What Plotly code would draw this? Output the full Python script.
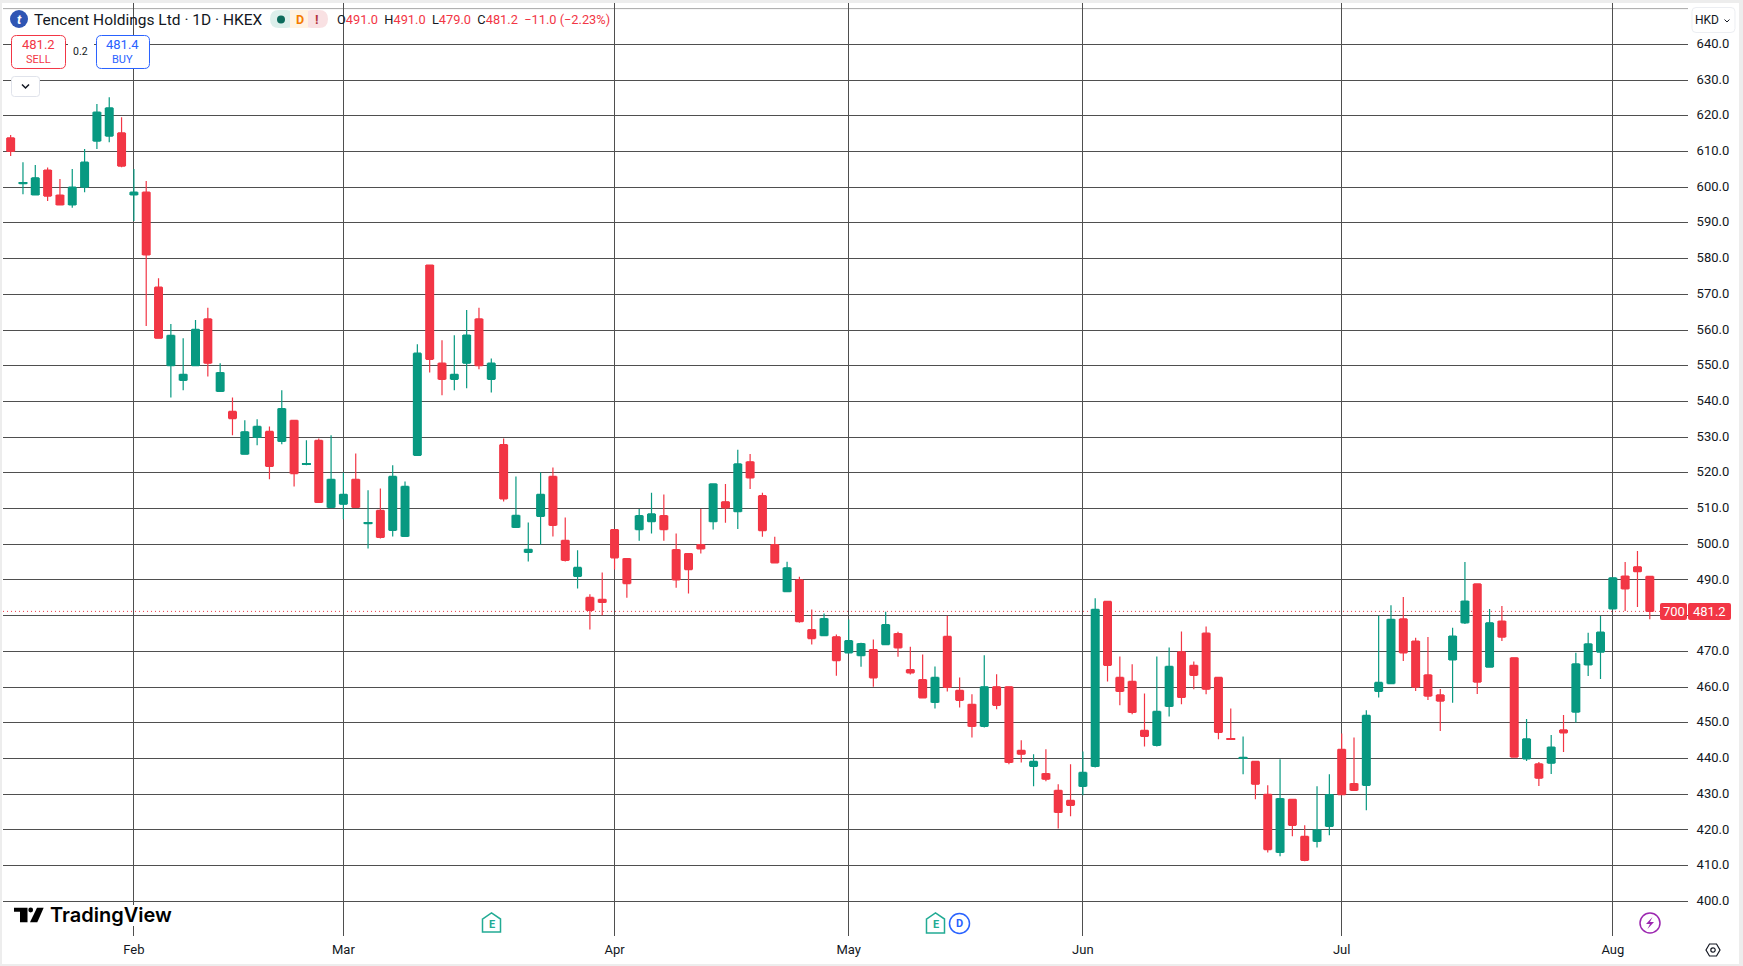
import plotly.graph_objects as go

W, H = 1743, 966

opens = [613.8, 601.0, 597.8, 604.8, 597.8, 595.0, 600.0, 612.9, 614.3, 615.2,
         597.8, 598.6, 572.0, 550.0, 545.9, 550.0, 563.1, 542.8, 537.2, 525.2,
         529.9, 531.6, 528.8, 534.7, 522.4, 529.1, 510.3, 511.2, 518.2, 505.8,
         509.5, 503.9, 502.2, 524.9, 578.2, 550.7, 546.2, 550.7, 563.1, 546.2,
         527.9, 504.7, 497.7, 507.8, 519.0, 501.1, 491.0, 485.1, 484.6, 504.1,
         496.0, 504.1, 506.3, 508.0, 498.5, 497.4, 499.9, 506.3, 511.9, 509.1,
         523.1, 513.6, 499.9, 486.7, 490.0, 476.1, 474.4, 474.1, 469.6, 468.8,
         470.5, 471.9, 475.0, 464.9, 462.1, 455.7, 474.2, 459.1, 455.2, 449.0,
         460.1, 460.1, 442.3, 437.8, 435.8, 431.1, 428.3, 432.2, 437.8, 484.0,
         462.7, 461.6, 447.9, 443.7, 454.6, 469.9, 466.1, 475.1, 462.7, 445.6,
         440.0, 439.2, 430.0, 413.7, 428.6, 418.2, 416.8, 421.0, 442.6, 433.0,
         432.5, 458.8, 461.0, 479.1, 472.9, 463.4, 457.8, 467.6, 478.0, 488.9,
         465.6, 478.5, 468.2, 439.9, 438.5, 438.7, 448.0, 453.0, 466.2, 469.8,
         481.9, 491.1, 493.7, 491.0]
highs = [614.6, 607.0, 606.2, 605.5, 602.3, 605.1, 610.7, 623.3, 625.2, 619.6,
         605.1, 601.7, 574.5, 561.7, 557.7, 562.8, 566.2, 550.7, 541.1, 534.7,
         535.0, 533.0, 543.1, 534.7, 529.1, 529.6, 530.5, 520.1, 525.4, 515.1,
         515.6, 522.1, 517.6, 556.0, 578.2, 557.1, 558.5, 565.6, 566.2, 552.0,
         529.6, 519.0, 506.1, 520.1, 521.5, 507.5, 498.3, 486.0, 492.1, 504.1,
         496.0, 509.9, 514.4, 513.9, 503.0, 497.4, 509.9, 516.9, 516.9, 526.5,
         525.3, 514.4, 502.1, 495.1, 490.9, 481.7, 480.6, 474.7, 478.9, 472.4,
         473.3, 481.1, 475.5, 471.3, 469.1, 465.8, 480.0, 462.7, 458.0, 468.9,
         463.6, 460.1, 445.1, 441.2, 442.6, 432.8, 438.4, 442.0, 484.9, 484.0,
         468.6, 466.4, 458.2, 468.6, 471.1, 475.6, 467.2, 477.0, 462.7, 454.0,
         446.2, 439.2, 432.5, 439.8, 428.6, 421.3, 432.2, 435.6, 447.0, 445.9,
         453.5, 480.0, 482.9, 485.2, 473.8, 474.0, 459.5, 476.6, 495.0, 488.9,
         481.9, 482.7, 468.2, 451.1, 439.0, 446.6, 452.2, 469.6, 475.2, 479.9,
         490.6, 495.0, 498.1, 491.0]
lows = [608.7, 598.0, 597.8, 596.1, 595.0, 594.2, 598.6, 610.7, 612.6, 605.6,
        590.5, 561.1, 557.7, 541.1, 543.1, 550.0, 547.0, 542.8, 530.5, 525.2,
        527.7, 518.2, 528.0, 516.2, 522.1, 511.7, 510.3, 507.0, 510.3, 498.8,
        501.6, 502.2, 502.2, 524.9, 548.1, 541.7, 543.1, 543.7, 549.0, 542.5,
        512.0, 504.7, 495.2, 499.9, 502.2, 495.2, 487.6, 476.1, 480.1, 492.9,
        485.0, 501.0, 503.0, 501.0, 487.8, 486.2, 497.4, 504.1, 506.0, 504.3,
        515.5, 502.1, 494.8, 486.7, 478.0, 471.9, 474.4, 463.2, 469.6, 465.7,
        460.1, 471.9, 468.5, 463.5, 457.0, 454.0, 458.8, 454.3, 445.9, 448.7,
        453.8, 438.4, 438.9, 432.2, 433.6, 420.4, 423.8, 429.7, 437.5, 461.6,
        454.9, 452.4, 443.4, 443.4, 451.8, 455.2, 459.4, 458.0, 445.4, 445.4,
        435.6, 428.6, 413.7, 412.6, 418.2, 411.2, 415.1, 418.5, 429.9, 431.1,
        425.5, 457.1, 460.8, 467.3, 458.9, 456.4, 447.7, 455.6, 477.7, 458.1,
        465.6, 472.9, 440.4, 439.3, 432.3, 435.7, 441.8, 450.1, 463.1, 462.3,
        481.9, 481.3, 482.4, 479.0]
closes = [610.0, 601.2, 602.6, 597.5, 595.0, 600.0, 607.0, 621.0, 622.2, 605.9,
          598.6, 581.0, 557.7, 558.5, 547.6, 560.2, 550.7, 548.1, 535.2, 531.5,
          533.0, 521.8, 538.0, 519.8, 522.6, 511.7, 518.2, 514.0, 510.3, 506.1,
          501.9, 519.0, 516.2, 553.5, 551.8, 546.2, 547.6, 558.6, 550.0, 550.7,
          512.7, 508.1, 498.6, 514.0, 505.3, 495.5, 493.5, 481.5, 483.7, 496.2,
          489.0, 508.0, 508.5, 504.1, 490.0, 492.9, 498.7, 516.9, 510.2, 522.5,
          518.6, 503.8, 494.8, 493.4, 478.3, 473.6, 479.2, 467.4, 473.0, 472.2,
          462.6, 477.5, 471.0, 464.0, 457.0, 462.7, 459.9, 456.3, 449.0, 460.1,
          454.9, 438.9, 441.2, 439.2, 434.2, 424.9, 426.9, 436.1, 481.8, 466.1,
          458.8, 452.9, 446.2, 453.2, 465.8, 457.1, 463.3, 459.4, 447.3, 445.4,
          440.3, 432.8, 414.5, 428.8, 421.3, 411.5, 420.0, 429.9, 429.9, 431.1,
          452.1, 461.3, 479.0, 469.6, 460.0, 457.5, 456.1, 474.3, 484.1, 461.4,
          478.0, 474.0, 440.4, 445.5, 434.5, 443.2, 447.2, 466.5, 472.1, 475.4,
          490.6, 487.5, 492.3, 481.2]
candle_idx = list(range(len(closes)))

month_idx = [10, 27, 49, 68, 87, 108, 130]
month_labels = ["Feb", "Mar", "Apr", "May", "Jun", "Jul", "Aug"]
price_ticks = list(range(400, 650, 10))
price_labels = ["" if p == 480 else f"{p}.0" for p in price_ticks]

RED = "#F23645"
GREEN = "#089981"
BLUE = "#2962FF"
INK = "#131722"
GRID = "#4f4f4f"
UI_FONT = "Roboto"


# page pixels -> paper fractions, margins are zero so the paper is the whole page
def fx(x):
    return x / W


def fy(y):
    return 1 - y / H


def pt(x, y):
    return f"{fx(x):.5f} {fy(y):.5f}"


def poly(points, close=True):
    d = "M " + " L ".join(pt(x, y) for x, y in points)
    return d + (" Z" if close else "")


def rr(x0, y0, x1, y1, r):
    # rounded box, corners made from short quadratic curves
    return (f"M {pt(x0 + r, y0)} L {pt(x1 - r, y0)} Q {pt(x1, y0)} {pt(x1, y0 + r)} "
            f"L {pt(x1, y1 - r)} Q {pt(x1, y1)} {pt(x1 - r, y1)} "
            f"L {pt(x0 + r, y1)} Q {pt(x0, y1)} {pt(x0, y1 - r)} "
            f"L {pt(x0, y0 + r)} Q {pt(x0, y0)} {pt(x0 + r, y0)} Z")


def shape_path(path, fill="rgba(0,0,0,0)", line=None, width=1):
    return dict(type="path", xref="paper", yref="paper", path=path, fillcolor=fill,
                line=dict(color=line or "rgba(0,0,0,0)", width=width if line else 0), layer="above")


def circle(cx, cy, r, fill="rgba(0,0,0,0)", line=None, width=1.5):
    return dict(type="circle", xref="paper", yref="paper", x0=fx(cx - r), x1=fx(cx + r),
                y0=fy(cy + r), y1=fy(cy - r), fillcolor=fill,
                line=dict(color=line or "rgba(0,0,0,0)", width=width if line else 0), layer="above")


def box(x0, y0, x1, y1, fill, layer="above"):
    return dict(type="rect", xref="paper", yref="paper", x0=fx(x0), x1=fx(x1), y0=fy(y1), y1=fy(y0),
                fillcolor=fill, line=dict(width=0), layer=layer)


def note(x, y, text, size=13, color=INK, anchor="center", weight=None, family=UI_FONT):
    return dict(xref="paper", yref="paper", x=fx(x), y=fy(y), text=text, showarrow=False,
                xanchor=anchor, yanchor="middle", borderpad=0,
                font=dict(size=size, color=color, family=family, weight=weight))


fig = go.Figure(go.Candlestick(
    x=candle_idx, open=opens, high=highs, low=lows, close=closes,
    increasing=dict(line=dict(color=GREEN, width=1.2), fillcolor=GREEN),
    decreasing=dict(line=dict(color=RED, width=1.2), fillcolor=RED),
    whiskerwidth=0, showlegend=False, hoverinfo="skip",
))
# candlestick has no body width setting, so bars widen the bodies
fig.add_trace(go.Bar(
    x=candle_idx,
    base=[min(o, c) for o, c in zip(opens, closes)],
    y=[abs(c - o) for o, c in zip(opens, closes)],
    width=0.73,
    marker=dict(color=[GREEN if c >= o else RED for o, c in zip(opens, closes)], line=dict(width=0)),
    showlegend=False, hoverinfo="skip",
))

shapes = [
    # white chart card on the grey page
    box(2, 3, 1739, 964, "#ffffff", layer="below"),
    # last price line and the faint top gridline
    dict(type="line", xref="paper", yref="y", x0=fx(3), x1=fx(1660), y0=closes[-1], y1=closes[-1],
         line=dict(color=RED, width=1, dash="1px,3px"), layer="below"),
    dict(type="line", xref="paper", yref="y", x0=fx(3), x1=fx(1688), y0=650, y1=650,
         line=dict(color="#a8a8a8", width=1), layer="below"),
    # logo
    circle(19, 19, 9, fill="#2f55b4"),
    # status pill
    shape_path(rr(303, 10, 328, 28, 9), fill="#f9e1e3"),
    shape_path(rr(270, 10, 295, 28, 9), fill="#dcefeb"),
    box(290, 10, 308, 28, "#fff3e3"),
    circle(281, 19.5, 4, fill="#0b6b5c"),
    # sell / buy
    shape_path(rr(11.5, 35.5, 65.5, 68.5, 5), fill="#ffffff", line=RED),
    shape_path(rr(96.5, 35.5, 149.5, 68.5, 5), fill="#ffffff", line=BLUE),
    box(68, 44, 94, 58, "#ffffff"),
    # collapse button
    shape_path(rr(11.5, 76.5, 39.5, 96.5, 3), fill="#ffffff", line="#e0e3eb"),
    shape_path(poly([(22, 84.5), (25.5, 88), (29, 84.5)], close=False), line=INK, width=1.5),
    # currency button
    shape_path(rr(1692, 7.5, 1735, 32.5, 4), fill="#ffffff", line="#eceef2"),
    shape_path(poly([(1724.5, 19.5), (1727, 22), (1729.5, 19.5)], close=False), line=INK, width=1),
    # price tags
    shape_path(rr(1660, 603, 1687, 620, 2), fill=RED),
    shape_path(rr(1688, 603, 1731, 620, 2), fill=RED),
    # TradingView mark
    box(12, 905, 175, 926, "#ffffff"),
    shape_path(poly([(14, 907.7), (27.5, 907.7), (27.5, 922.3), (20, 922.3), (20, 911.7), (14, 911.7)]), fill="#000000"),
    circle(30.7, 910, 2.4, fill="#000000"),
    shape_path(poly([(37, 907.7), (43.7, 907.7), (37.3, 922.3), (30, 922.3)]), fill="#000000"),
    # earnings and dividend flags
    shape_path(poly([(482.5, 919), (491.5, 913), (500.5, 919), (500.5, 932), (482.5, 932)]), fill="#ffffff", line="#22ab94", width=1.5),
    shape_path(poly([(926.5, 919), (935.5, 913), (944.5, 919), (944.5, 933), (926.5, 933)]), fill="#ffffff", line="#22ab94", width=1.5),
    circle(959.5, 923.5, 10, fill="#ffffff", line=BLUE),
    # lightning event
    circle(1650, 923, 10, fill="#ffffff", line="#9C27B0"),
    shape_path(poly([(1652.5, 917), (1646, 924), (1650, 924), (1647.5, 929), (1654, 922), (1650, 922)]), fill="#9C27B0"),
    # settings
    shape_path(poly([(1706, 950), (1709.5, 944), (1716.5, 944), (1720, 950), (1716.5, 956), (1709.5, 956)]), line=INK, width=1.2),
    circle(1713, 950, 2.2, line=INK, width=1.2),
]

ohlc_text = (f"O<span style='color:{RED}'>491.0</span>  H<span style='color:{RED}'>491.0</span>  "
             f"L<span style='color:{RED}'>479.0</span>  C<span style='color:{RED}'>481.2</span>  "
             f"<span style='color:{RED}'>−11.0 (−2.23%)</span>")

annotations = [
    note(19.5, 19, "<b><i>t</i></b>", size=13, color="#ffffff"),
    note(33, 19.5, "Tencent Holdings Ltd · 1D · HKEX", size=15.5, anchor="left"),
    note(299.5, 19.5, "<b>D</b>", size=12.5, color="#f57c00"),
    note(317, 19.5, "<b>!</b>", size=13, color="#b2333d"),
    note(336, 19.5, ohlc_text, size=12.8, anchor="left"),
    note(38.5, 44.5, "481.2", size=13, color=RED),
    note(38.5, 59.5, "SELL", size=11, color=RED),
    note(80, 51.5, "0.2", size=10.5),
    note(123, 44.5, "481.4", size=13, color=BLUE),
    note(123, 59.5, "BUY", size=11, color=BLUE),
    note(1707, 20, "HKD", size=12),
    note(1673.5, 611.5, "700", size=13, color="#ffffff"),
    note(1709.5, 611.5, "481.2", size=13, color="#ffffff"),
    note(49, 915, "TradingView", size=20, color="#000000", anchor="left", weight=600, family="Inter"),
    note(491.5, 924, "<b>E</b>", size=11, color="#22ab94"),
    note(935.5, 924.5, "<b>E</b>", size=11, color="#22ab94"),
    note(959.5, 923.5, "<b>D</b>", size=11, color=BLUE),
]

fig.update_layout(
    width=W, height=H,
    margin=dict(l=0, r=0, t=0, b=0),
    paper_bgcolor="#ededed",
    plot_bgcolor="rgba(0,0,0,0)",
    barmode="overlay",
    shapes=shapes,
    annotations=annotations,
    hovermode=False,
    dragmode=False,
    xaxis=dict(
        domain=[fx(3), fx(1688)], range=[-0.62, 136.1], type="linear",
        rangeslider=dict(visible=False),
        tickvals=month_idx, ticktext=month_labels,
        showgrid=True, gridcolor=GRID, gridwidth=1, zeroline=False, showline=False,
        ticks="outside", ticklen=1, tickcolor="#ffffff",
        tickfont=dict(size=13, color=INK, family=UI_FONT),
    ),
    yaxis=dict(
        domain=[fy(936), fy(3)], range=[390.3, 651.57], side="right",
        tickvals=price_ticks, ticktext=price_labels,
        showgrid=True, gridcolor=GRID, gridwidth=1, zeroline=False, showline=False,
        ticks="outside", ticklen=5, tickcolor="#ffffff", ticklabelshift=-1,
        tickfont=dict(size=13, color=INK, family=UI_FONT),
    ),
)

fig.write_html("out.html", config=dict(displayModeBar=False),
               post_script="document.body.style.margin='0';document.body.style.overflow='hidden';")
